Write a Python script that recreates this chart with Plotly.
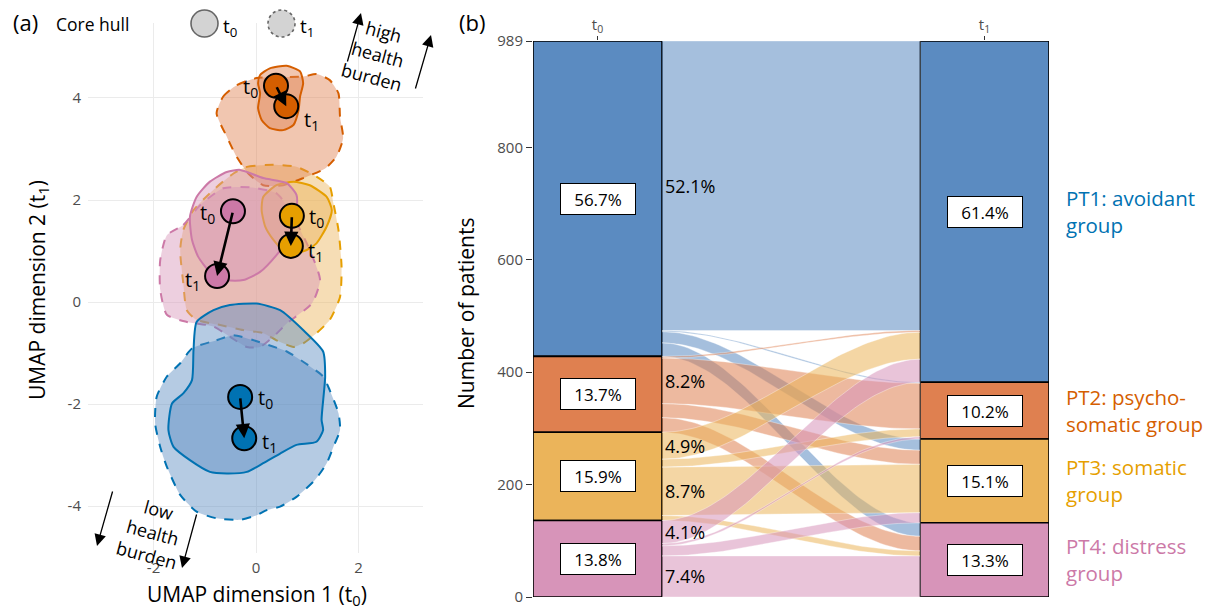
import plotly.graph_objects as go
import numpy as np

W, H = 1229, 610
FONT = "Open Sans"

# ---------------- data ----------------
groups = ["PT1", "PT2", "PT3", "PT4"]
group_labels = ["PT1: avoidant<br>group", "PT2: psycho-<br>somatic group",
                "PT3: somatic<br>group", "PT4: distress<br>group"]
line_colors = ["#0072B2", "#D55E00", "#E69F00", "#CC79A7"]
fill_colors = ["#5B8BC1", "#DF8050", "#EBB45A", "#D794B9"]

# panel (a): centroids
centroid_t0_x = [-0.31, 0.39, 0.70, -0.45]
centroid_t0_y = [-1.86, 4.24, 1.69, 1.78]
centroid_t1_x = [-0.23, 0.59, 0.68, -0.76]
centroid_t1_y = [-2.67, 3.84, 1.10, 0.51]

# panel (a): core hulls (t0 solid, t1 dashed)
hull_pt1_t0_x = [-1.16, -0.83, -0.51, 0.01, 0.47, 0.92, 1.31, 1.35, 1.28, 1.31, 1.18, 0.79, 0.47, 0.14, -0.18, -0.57, -0.90, -1.29, -1.61, -1.71, -1.64, -1.42, -1.25, -1.22]
hull_pt1_t0_y = [-0.39, -0.16, -0.06, -0.03, -0.16, -0.55, -0.97, -1.46, -2.31, -2.51, -2.74, -2.80, -2.97, -3.16, -3.33, -3.36, -3.33, -3.10, -2.84, -2.51, -1.99, -1.79, -1.53, -0.94]
hull_pt1_t1_x = [-1.25, -0.77, -0.44, 0.14, 0.60, 0.92, 1.31, 1.44, 1.61, 1.64, 1.51, 1.38, 1.15, 0.79, 0.47, 0.21, 0.01, -0.31, -0.77, -1.16, -1.48, -1.74, -1.87, -1.97, -1.94, -1.74, -1.48]
hull_pt1_t1_y = [-0.91, -0.75, -0.65, -0.81, -0.97, -1.17, -1.46, -1.73, -2.18, -2.51, -2.84, -3.16, -3.49, -3.82, -4.01, -4.08, -4.18, -4.27, -4.24, -4.11, -3.78, -3.23, -2.84, -2.38, -1.86, -1.46, -1.20]

hull_pt2_t0_x = [0.08, 0.27, 0.60, 0.86, 0.92, 0.86, 0.83, 0.73, 0.53, 0.27, 0.11, 0.04, 0.08, 0.04]
hull_pt2_t0_y = [4.45, 4.58, 4.63, 4.52, 4.29, 4.03, 3.76, 3.47, 3.37, 3.41, 3.57, 3.80, 4.09, 4.29]
hull_pt2_t1_x = [-0.77, -0.64, -0.38, 0.01, 0.92, 1.18, 1.44, 1.61, 1.64, 1.70, 1.57, 1.35, 0.92, 0.53, 0.14, -0.15, -0.38, -0.57]
hull_pt2_t1_y = [3.70, 4.03, 4.25, 4.39, 4.42, 4.47, 4.35, 4.09, 3.63, 3.21, 2.85, 2.62, 2.43, 2.29, 2.29, 2.52, 2.85, 3.24]

hull_pt3_t0_x = [0.14, 0.40, 0.73, 1.05, 1.38, 1.48, 1.38, 1.18, 0.99, 0.73, 0.53, 0.34, 0.18, 0.11]
hull_pt3_t0_y = [2.06, 2.29, 2.36, 2.29, 2.06, 1.80, 1.48, 1.15, 1.02, 0.95, 1.02, 1.22, 1.48, 1.80]
hull_pt3_t1_x = [-0.44, -0.18, 0.34, 0.79, 1.18, 1.44, 1.51, 1.61, 1.67, 1.64, 1.44, 1.18, 0.92, 0.73, 0.40, 0.14, -0.25, -0.70, -1.16, -1.35, -1.42, -1.48, -1.42, -1.22, -0.83]
hull_pt3_t1_y = [2.52, 2.65, 2.69, 2.65, 2.46, 2.26, 1.94, 1.41, 0.69, 0.10, -0.35, -0.61, -0.81, -0.88, -0.75, -0.61, -0.55, -0.45, -0.35, -0.16, 0.37, 1.02, 1.41, 1.80, 2.20]

hull_pt4_t0_x = [-1.29, -1.16, -0.90, -0.57, -0.31, 0.14, 0.60, 0.79, 0.79, 0.66, 0.40, 0.08, -0.25, -0.57, -0.90, -1.13, -1.25]
hull_pt4_t0_y = [1.67, 2.06, 2.36, 2.55, 2.59, 2.43, 2.33, 2.10, 1.80, 1.28, 0.92, 0.59, 0.43, 0.43, 0.59, 0.89, 1.22]
hull_pt4_t1_x = [-1.74, -1.42, -1.09, -0.64, -0.12, 0.40, 0.66, 1.05, 1.25, 1.09, 0.60, 0.34, 0.08, -0.18, -0.51, -0.83, -1.35, -1.74, -1.87, -1.87]
hull_pt4_t1_y = [1.31, 1.51, 1.90, 2.23, 2.25, 2.13, 1.80, 1.02, 0.43, -0.03, -0.42, -0.68, -0.88, -0.88, -0.68, -0.48, -0.39, -0.25, 0.24, 0.82]

hulls_t0 = [(hull_pt1_t0_x, hull_pt1_t0_y), (hull_pt2_t0_x, hull_pt2_t0_y),
            (hull_pt3_t0_x, hull_pt3_t0_y), (hull_pt4_t0_x, hull_pt4_t0_y)]
hulls_t1 = [(hull_pt1_t1_x, hull_pt1_t1_y), (hull_pt2_t1_x, hull_pt2_t1_y),
            (hull_pt3_t1_x, hull_pt3_t1_y), (hull_pt4_t1_x, hull_pt4_t1_y)]

# panel (b): transitions (rows: group at t0, cols: group at t1)
flow_from_pt1 = [515, 2, 20, 24]
flow_from_pt2 = [3, 81, 25, 26]
flow_from_pt3 = [48, 14, 86, 9]
flow_from_pt4 = [41, 4, 18, 73]
flows = [flow_from_pt1, flow_from_pt2, flow_from_pt3, flow_from_pt4]
time_labels = ["t<sub>0</sub>", "t<sub>1</sub>"]
y_ticks_b = [0, 200, 400, 600, 800, 989]

# ---------------- helpers ----------------
def rgba(hexc, a):
    h = hexc.lstrip("#")
    return "rgba(%d,%d,%d,%.3f)" % (int(h[0:2], 16), int(h[2:4], 16), int(h[4:6], 16), a)

def px_x(p):
    return p / W

def px_y(p):
    return (H - p) / H

def txt(x, y, text, size, color="black", xanchor="center", yanchor="middle", **kw):
    d = dict(x=x, y=y, xref="paper", yref="paper", text=text, showarrow=False,
             xanchor=xanchor, yanchor=yanchor, font=dict(family=FONT, size=size, color=color))
    d.update(kw)
    return d

fig = go.Figure()

# ---------------- panel (a) ----------------
draw_order = [2, 3, 1, 0]
for g in draw_order:
    hx, hy = hulls_t1[g]
    fig.add_trace(go.Scatter(
        x=hx + [hx[0]], y=hy + [hy[0]], mode="lines", fill="toself",
        fillcolor=rgba(fill_colors[g], 0.45),
        line=dict(color=line_colors[g], width=2, dash="dash", shape="spline", smoothing=0.6),
        hoverinfo="skip", showlegend=False, xaxis="x", yaxis="y"))
for g in draw_order:
    hx, hy = hulls_t0[g]
    fig.add_trace(go.Scatter(
        x=hx + [hx[0]], y=hy + [hy[0]], mode="lines", fill="toself",
        fillcolor=rgba(fill_colors[g], 0.45),
        line=dict(color=line_colors[g], width=2, shape="spline", smoothing=0.6),
        hoverinfo="skip", showlegend=False, xaxis="x", yaxis="y"))

for g in range(4):
    fig.add_trace(go.Scatter(
        x=[centroid_t0_x[g], centroid_t1_x[g]], y=[centroid_t0_y[g], centroid_t1_y[g]],
        mode="markers",
        marker=dict(size=24, color=line_colors[g], line=dict(color="black", width=2)),
        hoverinfo="skip", showlegend=False, xaxis="x", yaxis="y"))

annotations = []
for g in range(4):
    annotations.append(dict(
        x=centroid_t1_x[g], y=centroid_t1_y[g], ax=centroid_t0_x[g], ay=centroid_t0_y[g],
        xref="x", yref="y", axref="x", ayref="y", text="", showarrow=True,
        arrowhead=2, arrowsize=1.1, arrowwidth=2.6, arrowcolor="black", standoff=0))

side_t0 = [1, -1, 1, -1]
side_t1 = [1, 1, 1, -1]
yshift_t1 = [-4, -14, -6, -4]
for g in range(4):
    annotations.append(dict(x=centroid_t0_x[g], y=centroid_t0_y[g], xref="x", yref="y",
                            text="t<sub>0</sub>", showarrow=False, xshift=25 * side_t0[g], yshift=-2,
                            xanchor="center", yanchor="middle",
                            font=dict(family=FONT, size=20, color="black")))
    annotations.append(dict(x=centroid_t1_x[g], y=centroid_t1_y[g], xref="x", yref="y",
                            text="t<sub>1</sub>", showarrow=False, xshift=25 * side_t1[g], yshift=yshift_t1[g],
                            xanchor="center", yanchor="middle",
                            font=dict(family=FONT, size=20, color="black")))

# health burden annotations
for (hx, hy, tx, ty) in [(361, 13, 347, 63), (431, 35, 415, 90), (97, 546, 113, 490), (182, 568, 197, 513)]:
    annotations.append(dict(x=px_x(hx), y=px_y(hy), xref="paper", yref="paper",
                            ax=tx - hx, ay=ty - hy, axref="pixel", ayref="pixel",
                            text="", showarrow=True, arrowhead=2, arrowsize=1.8,
                            arrowwidth=1.3, arrowcolor="black", standoff=0))
annotations.append(txt(px_x(378), px_y(54), "high<br>health<br>burden", 18, textangle=15))
annotations.append(txt(px_x(153), px_y(532), "low<br>health<br>burden", 18, textangle=15))

# legend
annotations.append(txt(px_x(54), px_y(24), "Core hull", 17.5, xanchor="left"))
annotations.append(txt(px_x(221), px_y(27), "t<sub>0</sub>", 19, xanchor="left"))
annotations.append(txt(px_x(298), px_y(27), "t<sub>1</sub>", 19, xanchor="left"))
shapes = [
    dict(type="circle", xref="paper", yref="paper", x0=px_x(191), x1=px_x(218), y0=px_y(37), y1=px_y(10),
         fillcolor="#D3D3D3", line=dict(color="#666666", width=1.6)),
    dict(type="circle", xref="paper", yref="paper", x0=px_x(268), x1=px_x(295), y0=px_y(37), y1=px_y(10),
         fillcolor="#D3D3D3", line=dict(color="#666666", width=1.6, dash="dot")),
]

# panel labels and axis titles
annotations.append(txt(px_x(26), px_y(22), "(a)", 22))
annotations.append(txt(px_x(472), px_y(22), "(b)", 22))
annotations.append(txt(px_x(257), px_y(595), "UMAP dimension 1 (t<sub>0</sub>)", 21))
annotations.append(txt(px_x(38), px_y(290), "UMAP dimension 2 (t<sub>1</sub>)", 21, textangle=-90))
annotations.append(txt(px_x(466), px_y(314), "Number of patients", 21, textangle=-90))

# ---------------- panel (b) ----------------
total = sum(sum(r) for r in flows)
n_t0 = [sum(r) for r in flows]
n_t1 = [sum(flows[i][j] for i in range(4)) for j in range(4)]

top_t0, top_t1 = [], []
acc0, acc1 = total, total
for g in range(4):
    top_t0.append(acc0); acc0 -= n_t0[g]
    top_t1.append(acc1); acc1 -= n_t1[g]

bw = 1 / 3
xl = 1 + bw / 2
xr = 2 - bw / 2
t = np.linspace(0, 1, 60)
s = 3 * t ** 2 - 2 * t ** 3
xs = xl + (xr - xl) * t

cur0 = list(top_t0)
cur1 = list(top_t1)
flow_geo = {}
for i in range(4):
    for j in range(4):
        flow_geo[(i, j)] = [cur0[i], cur0[i] - flows[i][j]]
        cur0[i] -= flows[i][j]
for j in range(4):
    for i in range(4):
        flow_geo[(i, j)] += [cur1[j], cur1[j] - flows[i][j]]
        cur1[j] -= flows[i][j]

for i in range(4):
    for j in range(4):
        n = flows[i][j]
        if n <= 0:
            continue
        lt, lb, rt, rb = flow_geo[(i, j)]
        ytop = lt + (rt - lt) * s
        ybot = lb + (rb - lb) * s
        px = np.concatenate([xs, xs[::-1]])
        py = np.concatenate([ytop, ybot[::-1]])
        fig.add_trace(go.Scatter(
            x=px, y=py, mode="lines", fill="toself",
            fillcolor=rgba(fill_colors[i], 0.55),
            line=dict(color="rgba(255,255,255,0.6)", width=0.6),
            hoverinfo="skip", showlegend=False, xaxis="x2", yaxis="y2"))
        pct = 100 * n / total
        if pct >= 4:
            annotations.append(dict(x=xl, y=(lt + lb) / 2, xref="x2", yref="y2", xanchor="left",
                                    yanchor="middle", xshift=1, text="%.1f%%" % pct, showarrow=False,
                                    font=dict(family=FONT, size=18, color="black")))

for g in range(4):
    fig.add_trace(go.Bar(
        x=[1, 2], y=[n_t0[g], n_t1[g]], base=[top_t0[g] - n_t0[g], top_t1[g] - n_t1[g]],
        width=bw, marker=dict(color=fill_colors[g], line=dict(color="black", width=1.6)),
        hoverinfo="skip", showlegend=False, xaxis="x2", yaxis="y2", cliponaxis=False))
    for k, (cnt, top) in enumerate([(n_t0[g], top_t0[g]), (n_t1[g], top_t1[g])]):
        annotations.append(dict(x=k + 1, y=top - cnt / 2, xref="x2", yref="y2",
                                xanchor="center", yanchor="middle",
                                text="%.1f%%" % (100 * cnt / total), showarrow=False,
                                bgcolor="white", bordercolor="black", borderwidth=1, borderpad=4,
                                width=66, height=22,
                                font=dict(family=FONT, size=17, color="black")))
    annotations.append(dict(x=2 + bw / 2, y=top_t1[g] - n_t1[g] / 2, xref="x2", yref="y2",
                            xanchor="left", yanchor="middle", xshift=15, align="left",
                            text=group_labels[g], showarrow=False,
                            font=dict(family=FONT, size=20.5, color=line_colors[g])))

tick_font = dict(family=FONT, size=15, color="#4D4D4D")
fig.update_layout(
    width=W, height=H, margin=dict(l=0, r=0, t=0, b=0, autoexpand=False),
    paper_bgcolor="white", plot_bgcolor="white", barmode="overlay",
    showlegend=False, annotations=annotations, shapes=shapes,
    xaxis=dict(domain=[px_x(88), px_x(423)], range=[-3.28, 3.26], tickvals=[-2, 0, 2],
               ticktext=["-2", "0", "2"], showgrid=True, gridcolor="#EBEBEB", gridwidth=1.2,
               zeroline=False, showline=False, ticks="", tickfont=tick_font, ticklabelstandoff=4,
               anchor="y", automargin=False),
    yaxis=dict(domain=[px_y(553), px_y(23)], range=[-4.92, 5.47], tickvals=[-4, -2, 0, 2, 4],
               ticktext=["-4", "-2", "0", "2", "4"], showgrid=True, gridcolor="#EBEBEB", gridwidth=1.2,
               zeroline=False, showline=False, ticks="", tickfont=tick_font, ticklabelstandoff=6,
               anchor="x", automargin=False),
    xaxis2=dict(domain=[px_x(533), px_x(1049)], range=[1 - bw / 2, 2 + bw / 2], side="top",
                tickvals=[1, 2], ticktext=time_labels, ticks="outside", ticklen=4, tickcolor="#333333",
                showgrid=False, zeroline=False, showline=False,
                tickfont=dict(family=FONT, size=15, color="#4D4D4D"),
                anchor="y2", automargin=False),
    yaxis2=dict(domain=[px_y(597), px_y(41)], range=[0, total], tickvals=y_ticks_b,
                ticks="outside", ticklen=6, tickcolor="#333333", showgrid=False, zeroline=False,
                showline=False, tickfont=tick_font, anchor="x2", automargin=False),
)

fig.write_html("out.html", config={"displayModeBar": False},
               post_script="document.body.style.margin='0px';")
